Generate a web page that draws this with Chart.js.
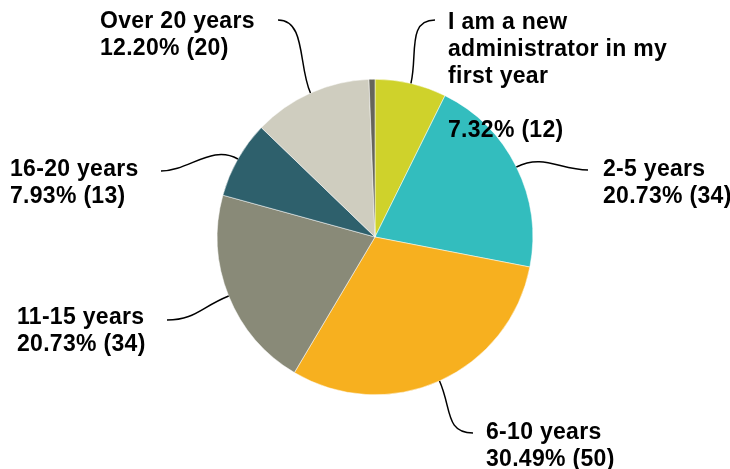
<!DOCTYPE html>
<html>
  <head>
    <meta charset="UTF-8" />
    <title>Years as administrator</title>
    <style>
      html, body { margin: 0; padding: 0; background: #fff; }
      #wrap { width: 730px; height: 469px; position: relative; }
    </style>
  </head>
  <body>
    <div id="wrap"><canvas id="myCanvas"></canvas></div>
    <script src="https://cdn.jsdelivr.net/npm/chart.js@4/dist/chart.umd.min.js"></script>
    <script>
      // data, clockwise from 12 o'clock
      const categories = [
        ["I am a new", "administrator in my", "first year", ""],
        "2-5 years",
        "6-10 years",
        "11-15 years",
        "16-20 years",
        "Over 20 years",
        "Other"
      ];
      const responses = [12, 34, 50, 34, 13, 20, 1];
      const colors = ["#cfd22b", "#33bdbe", "#f7b01f", "#898a78", "#2e606c", "#cfcdbf", "#66655a"];

      // where each callout ends and where its text sits (null = no callout)
      const callouts = [
        { end: [435, 20], dir: 1, text: [448, 29] },
        { end: [588, 170], dir: 1, text: [603, 176] },
        { end: [473, 433], dir: 1, text: [486, 439] },
        { end: [167, 320], dir: -1, text: [17, 324] },
        { end: [161, 171], dir: -1, text: [10, 176] },
        { end: [278, 20], dir: -1, text: [100, 28] },
        null
      ];

      const total = responses.reduce((a, b) => a + b, 0);

      const calloutPlugin = {
        id: "callouts",
        afterDraw(chart) {
          const ctx = chart.ctx;
          const meta = chart.getDatasetMeta(0);
          ctx.save();
          meta.data.forEach((arc, i) => {
            const c = callouts[i];
            if (!c) return;
            const mid = (arc.startAngle + arc.endAngle) / 2;
            const ux = Math.cos(mid), uy = Math.sin(mid);
            const sx = arc.x + arc.outerRadius * ux;
            const sy = arc.y + arc.outerRadius * uy;
            const ex = c.end[0], ey = c.end[1];
            // leader line
            ctx.beginPath();
            ctx.moveTo(sx, sy);
            ctx.bezierCurveTo(sx + ux * 30, sy + uy * 30, ex - c.dir * 28, ey, ex, ey);
            ctx.strokeStyle = "#000";
            ctx.lineWidth = 1.5;
            ctx.stroke();
            // text
            const lab = categories[i];
            const lines = Array.isArray(lab) ? lab.slice() : [lab];
            const pct = (responses[i] / total * 100).toFixed(2);
            lines.push(pct + "% (" + responses[i] + ")");
            ctx.fillStyle = "#000";
            ctx.font = "bold 23px 'Liberation Sans', Arial, sans-serif";
            ctx.letterSpacing = "0.3px";
            ctx.textAlign = "left";
            ctx.textBaseline = "alphabetic";
            lines.forEach((ln, k) => {
              ctx.fillText(ln, c.text[0], c.text[1] + k * 27);
            });
          });
          ctx.restore();
        }
      };

      const ctx = document.getElementById("myCanvas").getContext("2d");
      const myChart = new Chart(ctx, {
        type: "pie",
        data: {
          labels: categories,
          datasets: [
            {
              data: responses,
              backgroundColor: colors,
              borderColor: "#ffffff",
              borderWidth: 0.5
            }
          ]
        },
        options: {
          responsive: true,
          maintainAspectRatio: false,
          animation: false,
          events: [],
          layout: { padding: { left: 217, right: 197, top: 79, bottom: 74 } },
          plugins: {
            legend: { display: false },
            tooltip: { enabled: false }
          }
        },
        plugins: [calloutPlugin]
      });
    </script>
  </body>
</html>
